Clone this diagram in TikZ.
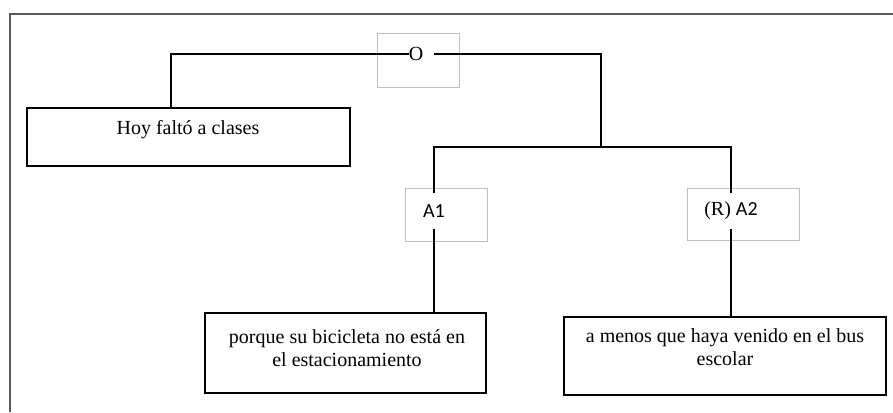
\documentclass[tikz,border=0pt]{standalone}
\usepackage{fontspec}
\setmainfont{Liberation Serif}
\newfontfamily\calibri{Carlito}
\begin{document}
\begin{tikzpicture}[x=1pt,y=-1pt,
    frameline/.style={draw=black!65,line width=1.6pt},
    greybox/.style={draw=black!25,line width=0.9pt,inner sep=0pt},
    txtbox/.style={draw=black,line width=1.5pt,inner sep=0pt},
    boxtext/.style={inner sep=0pt,align=center,font=\fontsize{20}{23}\selectfont},
    argmark/.style={inner sep=0pt,minimum height=36,font=\fontsize{20}{23}\selectfont},
    conn/.style={draw=black,line width=1.3pt}]
      \useasboundingbox (0,0) rectangle (893,412);
      \draw[frameline] (10,412) -- (10,14) -- (893,14);
      % grey marks
      \node[greybox,minimum width=82,minimum height=54] (obox) at (418,60) {};
      \node[greybox,minimum width=82,minimum height=53] (a1box) at (446,214.5) {};
      \node[greybox,minimum width=112,minimum height=52] (a2box) at (743,214) {};
      \node[inner sep=0pt,font=\fontsize{20}{23}\selectfont] (o) at (416,54) {O};
      \node[argmark] (a1) at (434,211) {\calibri A1};
      \node[argmark] (a2) at (731,211) {(R) {\calibri A2}};
      % boxes
      \node[txtbox,minimum width=323,minimum height=58] (hoy) at (188.5,137) {};
      \node[boxtext] (hoytxt) at (188,130) {Hoy faltó a clases};
      \node[txtbox,minimum width=281,minimum height=80] (porque) at (345.5,353) {};
      \node[boxtext] (porquetxt) at (347,348.5) {porque su bicicleta no está en\\el estacionamiento};
      \node[txtbox,minimum width=322,minimum height=78] (amenos) at (725,356) {};
      \node[boxtext] (amenostxt) at (725,347.5) {a menos que haya venido en el bus\\escolar};
      \coordinate (hoyin) at (171,108);
      \coordinate (fork) at (601,147);
      \begin{scope}[conn]
        \draw (o.west) -| (hoyin);
        \draw ([xshift=11pt]o.east) -| (fork);
        \draw (a1.north) |- (fork) -| (a2.north);
        \draw (a1.south) -- (a1.south |- porque.north);
        \draw (a2.south) -- (a2.south |- amenos.north);
      \end{scope}
    \end{tikzpicture}
\end{document}
